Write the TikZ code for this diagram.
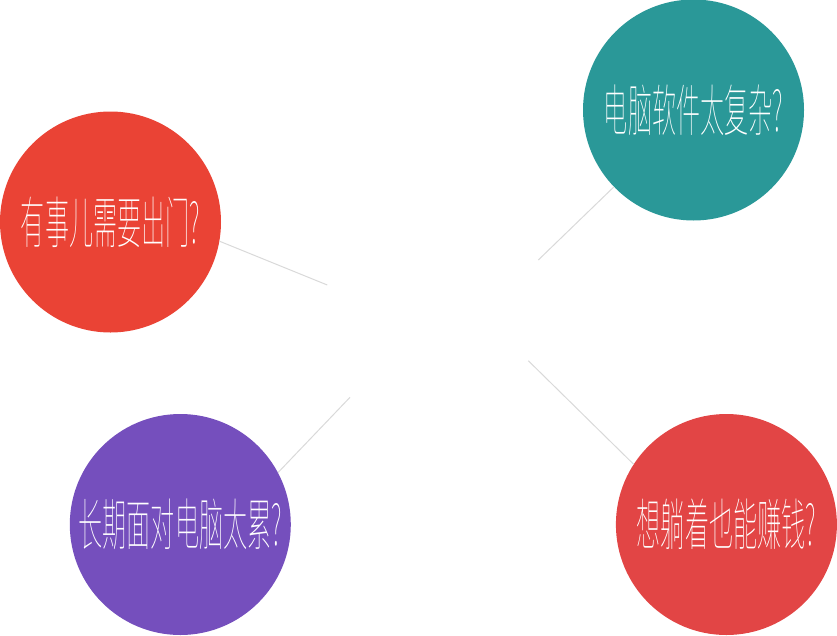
\documentclass[tikz,border=0pt]{standalone}
\usepackage{fontspec}
\usepackage{graphicx}
\newfontfamily\cjk{Noto Sans CJK SC Thin}
\usetikzlibrary{positioning}
\definecolor{redA}{HTML}{EA4335}
\definecolor{tealB}{HTML}{2A9898}
\definecolor{purpC}{HTML}{754FBD}
\definecolor{redD}{HTML}{E24545}
\newcommand{\narrowtxt}[1]{\scalebox{0.43}[1]{#1}}
\tikzset{
  bub/.style ={circle, minimum size=221pt, inner sep=0pt, text=white, font=\cjk\fontsize{56}{56}\selectfont},
  ln/.style  ={draw=black!15, line width=1pt},
}

\begin{document}
\begin{tikzpicture}[x=1pt, y=-1pt]
\useasboundingbox (0,0) rectangle (837,635);
% the four questions
\node[bub, fill=redA]  (out)   at (110.5,222)   {\narrowtxt{有事儿需要出门?}};
\node[bub, fill=tealB] (soft)  at (693.5,110)   {\narrowtxt{电脑软件太复杂?}};
\node[bub, fill=purpC] (tired) at (180.3,524.5) {\narrowtxt{长期面对电脑太累?}};
\node[bub, fill=redD]  (earn)  at (726.4,524.5) {\narrowtxt{想躺着也能赚钱?}};
% inner ends of the spokes
\coordinate (o1) at (327.3,285);
\coordinate (o2) at (538.3,260);
\coordinate (o3) at (350,397.3);
\coordinate (o4) at (528.3,360.7);
\draw[ln] (o1) -- (out.-10);
\draw[ln] (o2) -- (soft.-136.6);
\draw[ln] (o3) -- (tired.28.6);
\draw[ln] (o4) -- (earn.147.9);
\end{tikzpicture}
\end{document}
